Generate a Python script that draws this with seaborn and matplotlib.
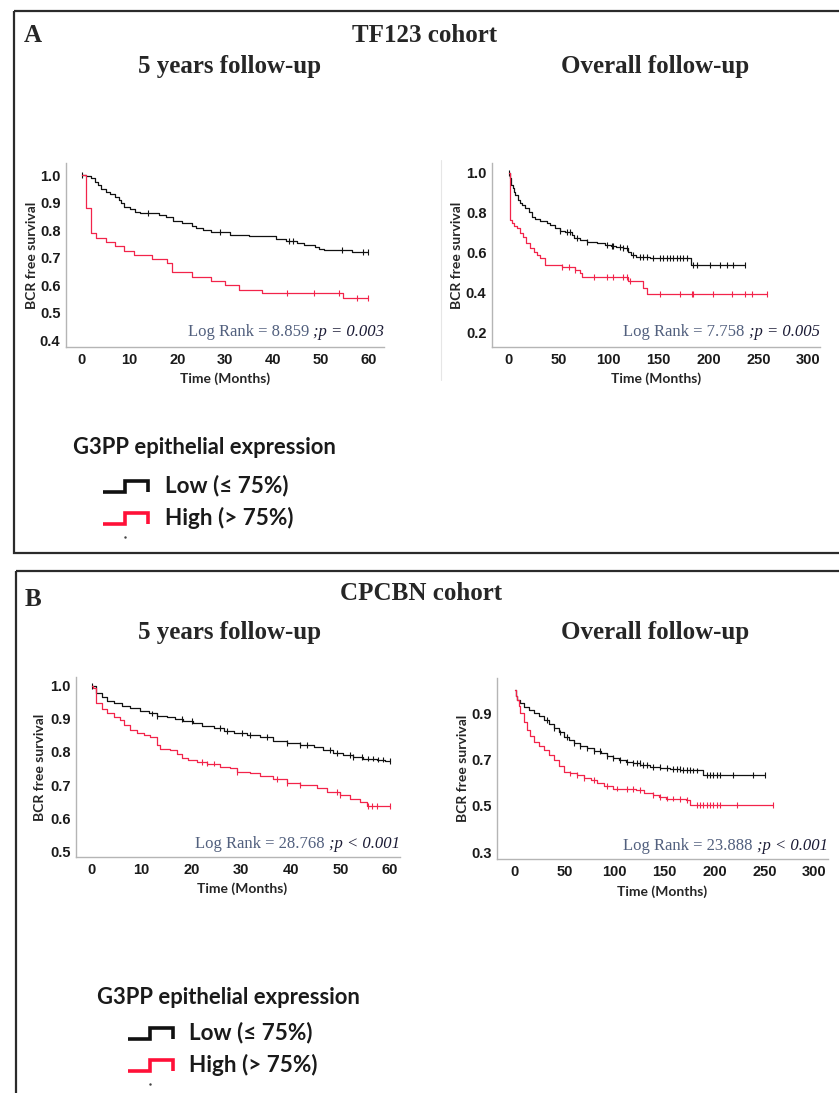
import numpy as np
import pandas as pd
import matplotlib.pyplot as plt
import seaborn as sns
from matplotlib.patches import Rectangle
from matplotlib.offsetbox import TextArea, HPacker, AnchoredOffsetbox

sns.set_style("white")
plt.rcParams["font.family"] = ["DejaVu Sans"]

W, H = 839, 1093
LOW_COL = "#111111"
HIGH_COL = "#f2244a"
groups = ["Low", "High"]

# ---------------- TF123, 5 years ----------------
a5_low_t = [0, 0.9, 2, 2.8, 3.3, 4, 5, 5.9, 7, 7.9, 8.3, 8.9, 10.1, 11.1, 12.2, 16.2, 17.6,
            19.1, 20.9, 23, 24, 25.4, 27.1, 31.1, 35, 40.7, 42.8, 45, 46.6, 48.9, 49.7, 50.8,
            56.7, 60]
a5_low_s = [1.0, 0.996, 0.988, 0.976, 0.964, 0.948, 0.937, 0.930, 0.921, 0.909, 0.897, 0.885,
            0.875, 0.867, 0.863, 0.855, 0.846, 0.834, 0.827, 0.815, 0.806, 0.800, 0.794, 0.782,
            0.778, 0.766, 0.761, 0.752, 0.745, 0.739, 0.732, 0.727, 0.722, 0.722]
a5_low_cens = [0, 13.9, 29.0, 43.5, 44.2, 54.6, 58.8, 60]
a5_high_t = [0, 0.9, 1.9, 2.9, 5, 7, 8.9, 10.9, 14.8, 17.9, 19, 23, 27, 29.9, 32.9, 37.8, 54.7, 60]
a5_high_s = [1.0, 0.879, 0.788, 0.772, 0.758, 0.742, 0.725, 0.709, 0.695, 0.679, 0.646, 0.630,
             0.616, 0.600, 0.584, 0.570, 0.552, 0.552]
a5_high_cens = [42.9, 48.7, 53.8, 57.7, 60]

# ---------------- TF123, overall ----------------
ao_low_t = [0, 1, 2.3, 4, 5, 6.7, 9, 11, 13.3, 16.7, 20, 23.3, 26.7, 31.7, 38.3, 41.7, 46.7, 51.7,
            56.7, 63.3, 65, 71.7, 78.3, 88.3, 96.7, 103, 108, 115, 120, 123, 128, 141.7, 182.3, 236.7]
ao_low_s = [1.0, 0.972, 0.938, 0.922, 0.905, 0.888, 0.863, 0.847, 0.838, 0.822, 0.805, 0.78, 0.767,
            0.758, 0.75, 0.738, 0.722, 0.708, 0.702, 0.688, 0.672, 0.663, 0.655, 0.647, 0.638,
            0.633, 0.627, 0.622, 0.605, 0.588, 0.58, 0.572, 0.538, 0.538]
ao_low_cens = [0, 51.7, 58.3, 61.7, 68.3, 78.3, 98.3, 103.3, 105, 111.7, 115, 118.3, 125, 131.7,
               135, 138.3, 145, 151.7, 155, 158.3, 161.7, 165, 168.3, 171.7, 175, 178.3, 185,
               188.3, 201.7, 211.7, 218.3, 225, 236.7]
ao_high_t = [0, 1, 1.7, 3.3, 5, 8.3, 11, 14.3, 17.7, 21.7, 25, 28.3, 31.7, 36.7, 53.3, 66.7, 71.7,
             73.3, 120, 135, 138.3, 258.3]
ao_high_s = [1.0, 0.863, 0.763, 0.747, 0.735, 0.722, 0.697, 0.68, 0.647, 0.622, 0.605, 0.588,
             0.572, 0.538, 0.53, 0.513, 0.497, 0.48, 0.46, 0.422, 0.393, 0.393]
ao_high_cens = [53.3, 60, 66.7, 85, 98.3, 105, 115, 118.3, 121.7, 151.7, 171.7, 183.3, 185, 205,
                223.3, 236.7, 243.3, 258.3]

# ---------------- CPCBN, 5 years ----------------
b5_low_t = [0, 0.9, 2.0, 3.0, 4.4, 6.0, 7.7, 9.7, 11.4, 13.1, 15.1, 16.8, 18.4, 20.4, 22.1, 24.5,
            26.5, 28.5, 31.2, 33.8, 36.5, 39.2, 41.9, 44.6, 46.6, 48.6, 50.6, 52.6, 54.6, 57.3, 59, 60]
b5_low_s = [1.0, 0.977, 0.965, 0.955, 0.947, 0.94, 0.931, 0.923, 0.916, 0.908, 0.904, 0.898, 0.893,
            0.886, 0.878, 0.871, 0.863, 0.858, 0.851, 0.844, 0.833, 0.826, 0.821, 0.814, 0.805,
            0.797, 0.79, 0.785, 0.78, 0.777, 0.773, 0.773]
b5_low_cens = [0, 12.1, 13.1, 18.1, 20.1, 25.8, 27.1, 30.2, 31.8, 35.2, 39.2, 41.9, 43.2, 47.9,
               49.3, 51.9, 52.6, 54.3, 55.6, 56.6, 57.6, 58.6, 60]
b5_high_t = [0, 0.3, 0.9, 2.0, 3.0, 4.4, 5.7, 6.4, 7.7, 9.0, 10.4, 11.7, 13.1, 13.7, 15.8, 17.1,
             18.1, 19.4, 21.1, 23.1, 25.8, 27.8, 29.2, 31.8, 33.8, 36.5, 39.2, 41.9, 45.2, 47.3,
             49.9, 51.9, 54.0, 55.3, 60]
b5_high_s = [1.0, 0.992, 0.947, 0.928, 0.916, 0.906, 0.896, 0.881, 0.866, 0.858, 0.851, 0.846,
             0.821, 0.81, 0.805, 0.795, 0.783, 0.777, 0.77, 0.765, 0.755, 0.75, 0.74, 0.735, 0.727,
             0.717, 0.707, 0.70, 0.69, 0.679, 0.669, 0.659, 0.649, 0.638, 0.638]
b5_high_cens = [22.1, 23.1, 24.5, 29.2, 37.2, 39.2, 41.9, 49.3, 49.9, 55.6, 56.3, 57.3, 60]

# ---------------- CPCBN, overall ----------------
bo_low_t = [0, 1, 2.3, 5, 9, 14, 19, 24, 29, 34, 39, 44, 49, 54, 59, 65, 72, 79, 86, 92, 99, 105,
            112, 119, 126, 136, 146, 156, 166, 176, 189, 250.7]
bo_low_s = [1.0, 0.975, 0.958, 0.945, 0.929, 0.914, 0.9, 0.886, 0.871, 0.853, 0.835, 0.817, 0.799,
            0.784, 0.77, 0.759, 0.748, 0.738, 0.727, 0.716, 0.705, 0.698, 0.691, 0.684, 0.676,
            0.669, 0.662, 0.658, 0.655, 0.653, 0.633, 0.633]
bo_low_cens = [32.3, 39, 45.7, 52.3, 59, 65.7, 72.3, 79, 85.7, 92.3, 99, 105.7, 112.3, 119, 122.3,
               125.7, 129, 132.3, 139, 145.7, 152.3, 159, 162.3, 165.7, 169, 172.3, 175.7, 179,
               182.3, 192.3, 195.7, 199, 202.3, 205.7, 219, 239, 250.7]
bo_high_t = [0, 1, 2.3, 4, 5.7, 9, 12.3, 15, 19, 24, 29, 34, 39, 44, 49, 55, 62, 69, 76, 82, 89,
             99, 110, 122, 130, 139, 145, 152, 162, 172, 176, 259]
bo_high_s = [1.0, 0.975, 0.958, 0.93, 0.9, 0.86, 0.828, 0.80, 0.777, 0.758, 0.741, 0.72, 0.698,
             0.672, 0.647, 0.64, 0.633, 0.622, 0.611, 0.598, 0.585, 0.575, 0.572, 0.568, 0.556,
             0.546, 0.538, 0.532, 0.528, 0.525, 0.503, 0.503]
bo_high_cens = [55.7, 62.3, 69, 79, 92.3, 102.3, 112.3, 119, 125.7, 139, 145.7, 152.3, 159, 165.7,
                172.3, 182.3, 185.7, 189, 192.3, 195.7, 199, 202.3, 205.7, 222.3, 259]


def step_value(t, s, c):
    idx = np.searchsorted(t, c, side="right") - 1
    return np.asarray(s)[np.clip(idx, 0, len(s) - 1)]


def px_axes(fig, x0, y0, x1, y1):
    return fig.add_axes([x0 / W, 1 - y1 / H, (x1 - x0) / W, (y1 - y0) / H])


def km_plot(ax, low, high, low_cens, high_cens, xlim, ylim, xticks, yticks,
            logrank, pstr, ylab_x, xlab_xy, lr_y):
    pal = {groups[0]: LOW_COL, groups[1]: HIGH_COL}
    curves = pd.concat([
        pd.DataFrame({"time": low[0], "surv": low[1], "group": groups[0]}),
        pd.DataFrame({"time": high[0], "surv": high[1], "group": groups[1]}),
    ])
    sns.lineplot(data=curves, x="time", y="surv", hue="group", palette=pal,
                 estimator=None, drawstyle="steps-post", linewidth=0.9,
                 legend=False, ax=ax)
    cens = pd.concat([
        pd.DataFrame({"time": low_cens, "surv": step_value(low[0], low[1], low_cens),
                      "group": groups[0]}),
        pd.DataFrame({"time": high_cens, "surv": step_value(high[0], high[1], high_cens),
                      "group": groups[1]}),
    ])
    sns.scatterplot(data=cens, x="time", y="surv", hue="group", palette=pal,
                    marker="|", s=18, linewidth=0.8, legend=False, ax=ax)

    ax.set_xlim(*xlim)
    ax.set_ylim(*ylim)
    ax.set_xticks(xticks)
    ax.set_yticks(yticks)
    ax.set_yticklabels([f"{v:.1f}" for v in yticks])
    ax.tick_params(length=0, pad=4, labelsize=10.5, colors="#1a1a1a")
    for lab in ax.get_xticklabels() + ax.get_yticklabels():
        lab.set_fontfamily("Liberation Sans")
        lab.set_fontweight("bold")
    ax.set_facecolor("none")
    sns.despine(ax=ax)
    for sp in ["left", "bottom"]:
        ax.spines[sp].set_color("#b5b5b5")
        ax.spines[sp].set_linewidth(1.0)

    ax.set_ylabel("BCR free survival", fontfamily="Lato", fontweight="bold", fontsize=10)
    ax.set_xlabel("Time (Months)", fontfamily="Lato", fontweight="bold", fontsize=10)
    ax.yaxis.set_label_coords(ylab_x, 0.5)
    ax.xaxis.set_label_coords(*xlab_xy)

    t1 = TextArea(logrank, textprops=dict(family="Liberation Serif", size=12, color="#52607e"))
    t2 = TextArea(pstr, textprops=dict(family="Liberation Serif", size=12, style="italic",
                                        color="#1c1c36"))
    box = HPacker(children=[t1, t2], align="baseline", pad=0, sep=0)
    anch = AnchoredOffsetbox(loc="lower right", child=box, frameon=False, pad=0, borderpad=0,
                             bbox_to_anchor=(1.0, lr_y), bbox_transform=ax.transAxes)
    ax.add_artist(anch)


fig = plt.figure(figsize=(W / 100, H / 100), dpi=100)

ov = fig.add_axes([0, 0, 1, 1])
ov.set_xlim(0, W)
ov.set_ylim(H, 0)
ov.axis("off")

# panel frames
ov.add_patch(Rectangle((14, 11), 850 - 14, 553 - 11, fill=False, lw=1.6, ec="#2b2b2b"))
ov.add_patch(Rectangle((16, 571), 850 - 16, 1110 - 571, fill=False, lw=1.6, ec="#2b2b2b"))
ov.plot([441, 441], [160, 380], color="#e6e6e6", lw=0.8)

serif_bold = dict(family="Liberation Serif", weight="bold", ha="center", va="center")
ov.text(33, 36, "A", size=18, **serif_bold)
ov.text(425, 35, "TF123 cohort", size=18, **serif_bold)
ov.text(230, 66, "5 years follow-up", size=18, **serif_bold)
ov.text(655, 66, "Overall follow-up", size=18, **serif_bold)
ov.text(33, 600, "B", size=18, **serif_bold)
ov.text(421, 594, "CPCBN cohort", size=18, **serif_bold)
ov.text(230, 633, "5 years follow-up", size=18, **serif_bold)
ov.text(655, 633, "Overall follow-up", size=18, **serif_bold)

# legends
leg_font = ["Lato", "DejaVu Sans"]
for (tx, ty, ix, lx, dy_low, dy_high) in [(73, 447, 103, 165, 39, 71), (97, 997, 128, 189, 36, 68)]:
    ov.text(tx, ty, "G3PP epithelial expression", family=leg_font, weight="bold", size=15.8,
            ha="left", va="center", color="#1a1a1a")
    for dy, col, lab in [(dy_low, "#111111", "Low (≤ 75%)"), (dy_high, "#ff1038", "High (> 75%)")]:
        yc = ty + dy
        ov.plot([ix, ix + 22, ix + 22, ix + 45, ix + 45], [yc + 6, yc + 6, yc - 5, yc - 5, yc + 6],
                color=col, lw=2.6, solid_joinstyle="miter", solid_capstyle="butt")
        ov.text(lx, yc, lab, family=leg_font, weight="bold", size=16.2, ha="left", va="center",
                color="#1a1a1a")
    ov.plot(ix + 22, ty + dy_high + 19, ".", ms=1.5, color="#444444")

ax1 = px_axes(fig, 66, 163, 384, 347)
km_plot(ax1, (a5_low_t, a5_low_s), (a5_high_t, a5_high_s), a5_low_cens, a5_high_cens,
        (-3.3, 63.3), (0.375, 1.044), np.arange(0, 61, 10), np.round(np.arange(0.4, 1.01, 0.1), 1),
        "Log Rank = 8.859 ", ";p = 0.003", -0.088, (0.5, -0.136), 0.04)

ax2 = px_axes(fig, 492, 163, 820, 347)
km_plot(ax2, (ao_low_t, ao_low_s), (ao_high_t, ao_high_s), ao_low_cens, ao_high_cens,
        (-16.6, 311.7), (0.13, 1.048), np.arange(0, 301, 50), np.round(np.arange(0.2, 1.01, 0.2), 1),
        "Log Rank = 7.758 ", ";p = 0.005", -0.088, (0.5, -0.136), 0.04)

ax3 = px_axes(fig, 76, 677, 400, 857)
km_plot(ax3, (b5_low_t, b5_low_s), (b5_high_t, b5_high_s), b5_low_cens, b5_high_cens,
        (-3.2, 62), (0.483, 1.026), np.arange(0, 61, 10), np.round(np.arange(0.5, 1.01, 0.1), 1),
        "Log Rank = 28.768 ", ";p < 0.001", -0.093, (0.512, -0.139), 0.03)

ax4 = px_axes(fig, 497, 678, 828, 859)
km_plot(ax4, (bo_low_t, bo_low_s), (bo_high_t, bo_high_s), bo_low_cens, bo_high_cens,
        (-17.6, 313.7), (0.271, 1.052), np.arange(0, 301, 50), [0.3, 0.5, 0.7, 0.9],
        "Log Rank = 23.888 ", ";p < 0.001", -0.085, (0.5, -0.144), 0.03)

fig.savefig("out.png", dpi=100)
